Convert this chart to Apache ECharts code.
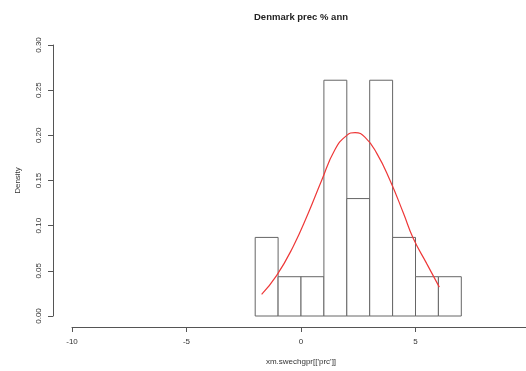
<!DOCTYPE html>
<html>
<head>
<meta charset="utf-8">
<script src="https://cdn.jsdelivr.net/npm/echarts@6/dist/echarts.min.js"></script>
<style>
  html, body { margin: 0; padding: 0; background: #fff; }
  #chart { width: 526px; height: 371px; }
</style>
</head>
<body>
<div id="chart"></div>
<script>
// histogram bins (left, right) and density
var binLeft = [-2, -1, 0, 1, 2, 3, 4, 5, 6];
var binRight = [-1, 0, 1, 2, 3, 4, 5, 6, 7];
var density = [0.087, 0.0435, 0.0435, 0.261, 0.130, 0.261, 0.087, 0.0435, 0.0435];

// fitted curve
var curveX = [-1.72, -1.06, -0.34, 0.32, 0.90, 1.48, 2.00, 2.36, 2.79, 3.31, 3.89, 4.47, 4.90, 5.49, 6.04];
var curveY = [0.024, 0.045, 0.077, 0.114, 0.150, 0.184, 0.200, 0.203, 0.198, 0.180, 0.150, 0.114, 0.086, 0.058, 0.032];

var xTicks = [-10, -5, 0, 5, 10];
var yTicks = [0, 0.05, 0.10, 0.15, 0.20, 0.25, 0.30];

var bars = binLeft.map(function (l, i) { return [l, binRight[i], density[i]]; });
var curve = curveX.map(function (x, i) { return [x, curveY[i]]; });

var myChart = echarts.init(document.getElementById('chart'));
var axisColor = '#555';
var labelStyle = { color: '#333', fontSize: 8, fontFamily: 'Liberation Sans' };

var option = {
    animation: false,
    backgroundColor: '#fff',
    title: {
        text: 'Denmark prec % ann',
        left: 296, top: 7,
        textAlign: 'center',
        textStyle: { fontSize: 9.5, fontWeight: 'bold', color: '#222', fontFamily: 'Liberation Sans' }
    },
    grid: { left: 72, right: -4, top: 45, bottom: 55, outerBoundsMode: 'none', containLabel: false },
    xAxis: {
        type: 'value',
        min: -10, max: 10, interval: 5,
        offset: 11,
        name: "xm.swechgpr[['prc']]",
        nameLocation: 'middle',
        nameGap: 31,
        nameTextStyle: labelStyle,
        splitLine: { show: false },
        axisLine: { show: true, onZero: false, lineStyle: { color: axisColor, width: 1 } },
        axisTick: { show: true, length: 5, lineStyle: { color: axisColor } },
        axisLabel: Object.assign({ margin: 11, showMinLabel: true, showMaxLabel: true,
            formatter: function (v) { return xTicks.indexOf(v) >= 0 ? String(v) : ''; } }, labelStyle)
    },
    yAxis: {
        type: 'value',
        min: 0, max: 0.30, interval: 0.05,
        offset: 19,
        name: 'Density',
        nameLocation: 'middle',
        nameGap: 31,
        nameRotate: 90,
        nameTextStyle: labelStyle,
        splitLine: { show: false },
        axisLine: { show: true, onZero: false, lineStyle: { color: axisColor, width: 1 } },
        axisTick: { show: true, length: 5, lineStyle: { color: axisColor } },
        axisLabel: Object.assign({ rotate: 90, margin: 10,
            formatter: function (v) { return v.toFixed(2); } }, labelStyle)
    },
    series: [
        {
            type: 'custom',
            data: bars,
            encode: { x: [0, 1], y: 2 },
            renderItem: function (params, api) {
                var p0 = api.coord([api.value(0), 0]);
                var p1 = api.coord([api.value(1), api.value(2)]);
                return {
                    type: 'rect',
                    shape: { x: p0[0], y: p1[1], width: p1[0] - p0[0], height: p0[1] - p1[1] },
                    style: { fill: '#fff', stroke: '#666', lineWidth: 1 }
                };
            },
            z: 1
        },
        {
            type: 'line',
            data: curve,
            smooth: true,
            symbol: 'none',
            lineStyle: { color: '#ee3838', width: 1.2 },
            z: 2
        }
    ]
};
myChart.setOption(option);
</script>
</body>
</html>
